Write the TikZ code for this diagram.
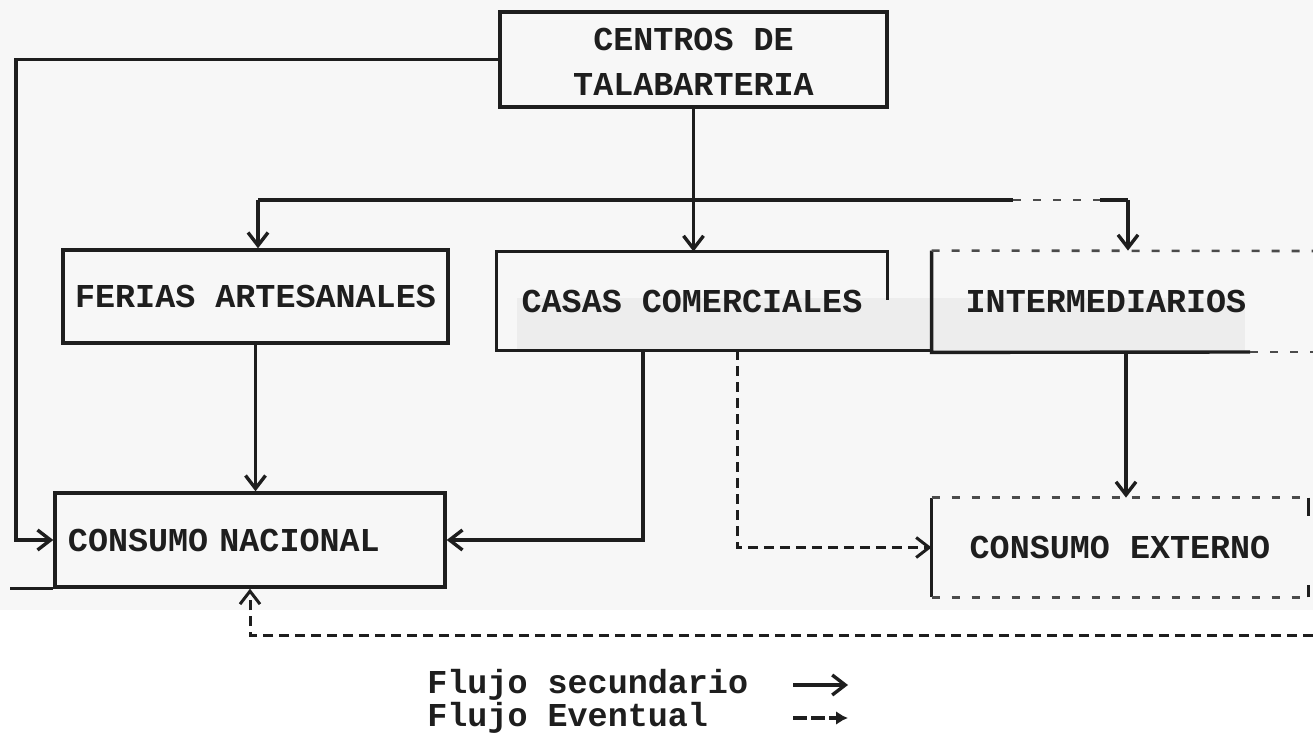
\documentclass[tikz,border=0pt]{standalone}
\usepackage{fontspec}
\setmainfont{Liberation Mono}
\usetikzlibrary{arrows.meta}
\definecolor{ink}{HTML}{1E1E1E}
\definecolor{paper}{HTML}{F7F7F7}
\definecolor{band}{HTML}{EDEDED}
\tikzset{
  ln/.style={draw=ink, line width=1.7pt},
  faint/.style={draw=ink!80, line width=1.3pt, dash pattern=on 4pt off 6pt},
  flow/.style={ln, -{Straight Barb[length=6.5pt,width=10pt]}},
  evflow/.style={draw=ink, line width=1.5pt, dash pattern=on 5pt off 3pt, -{Straight Barb[length=6.5pt,width=10pt]}},
  txt/.style={font=\fontsize{16.7}{22.5}\selectfont\bfseries, text=ink, inner sep=0pt},
  boxn/.style={txt, ln, rectangle},
  openbox/.style={txt, rectangle, draw=none}
}
\begin{document}
\begin{tikzpicture}[x=0.5pt, y=-0.5pt]
\useasboundingbox (0,0) rectangle (1313,743);
\fill[white] (0,0) rectangle (1313,743);
\fill[paper] (0,0) rectangle (1313,610);
\fill[band] (517,298) rectangle (1245,351);

% nodes
\node[boxn, minimum width=193.5pt, minimum height=47.5pt, align=center] (cen) at (693.5,59.5) {\rule{0pt}{14pt}CENTROS DE\\TALABARTERIA};
\node[boxn, minimum width=192.5pt, minimum height=46.5pt] (fer) at (255.5,296.5) {FERIAS ARTESANALES};
\node[openbox, minimum width=195pt, minimum height=49pt] (cas) at (692,301) {CASAS COMERCIALES};
\node[openbox, minimum width=174pt, minimum height=50.5pt] (int) at (1106,301.5) {INTERMEDIARIOS};
\node[boxn, text width=182pt, inner xsep=6.5pt, minimum height=47pt, align=left] (cna) at (250,540) {CONSUMO NACIONAL};
\node[openbox, minimum width=188pt, minimum height=49.5pt] (cex) at (1120,547.5) {CONSUMO EXTERNO};

% outlines of partly drawn boxes
\draw[ln] ([yshift=-24pt]cas.north east) -- (cas.north east) -- (cas.north west) -- (cas.south west) -- (cas.south west -| int.west);
\coordinate (intTR) at (1313,251);
\coordinate (intBR) at (1313,352);
\coordinate (intBm) at (1250,352);
\draw[ln] (int.north west) -- (int.south west) -- (intBm);
\draw[faint] (intBm) -- (intBR);
\draw[faint] (int.north west) -- (intTR);
\draw[ln] (cex.north west) -- (cex.south west);
\draw[faint] (cex.north west) -- (cex.north east);
\draw[faint] (cex.south west) -- (cex.south east);
\draw[ln] (cex.north east) -- ([yshift=-9pt]cex.north east);
\draw[ln] (cex.south east) -- ([yshift=6pt]cex.south east);
\coordinate (cnaBL) at (10,587);
\draw[ln] (cnaBL |- cna.south) -- (cna.south west);

% distribution from CENTROS
\coordinate (dl) at (258,200);
\coordinate (dm) at (1013,200);
\coordinate (dn) at (1100,200);
\coordinate (dr) at (1128,200);
\draw[flow] (cen.south) -- (cen.south |- cas.north);
\draw[ln] (dl) -- (dm);
\draw[faint] (dm) -- (dn);
\draw[ln] (dn) -- (dr);
\draw[flow] (dl) -- (dl |- fer.north);
\draw[flow] (dr) -- (dr |- int.north);

% left loop from CENTROS to CONSUMO NACIONAL
\coordinate (lc) at (16,60);
\draw[flow] (cen.west) -- (lc |- cen.west) |- (cna.west);

% FERIAS -> CONSUMO NACIONAL
\draw[flow] (fer.south) -- (fer.south |- cna.north);

% CASAS -> CONSUMO NACIONAL
\coordinate (cs1) at (643,0);
\draw[flow] (cs1 |- cas.south) |- (cna.east);

% CASAS -> CONSUMO EXTERNO (eventual)
\coordinate (cs2) at (737,0);
\draw[evflow] (cs2 |- cas.south) |- (cex.west);

% INTERMEDIARIOS -> CONSUMO EXTERNO
\coordinate (ic) at (1126,0);
\draw[flow] (ic |- int.south) -- (ic |- cex.north);

% eventual flow back to CONSUMO NACIONAL
\coordinate (br) at (1313,635);
\draw[evflow] (br) -| (cna.south);

% legend
\node[txt, anchor=west] (l1) at (427,685) {Flujo secundario};
\node[txt, anchor=west] (l2) at (427,718) {Flujo Eventual};
\coordinate (a1s) at (793,685);
\coordinate (a1e) at (848,685);
\coordinate (a2s) at (793,718);
\coordinate (a2e) at (848,718);
\draw[ln, -{Straight Barb[length=6.5pt,width=10pt]}] (a1s) -- (a1e);
\draw[draw=ink, line width=1.7pt, dash pattern=on 7pt off 2pt, -{Latex[length=6pt,width=7pt]}] (a2s) -- (a2e);
\end{tikzpicture}
\end{document}
